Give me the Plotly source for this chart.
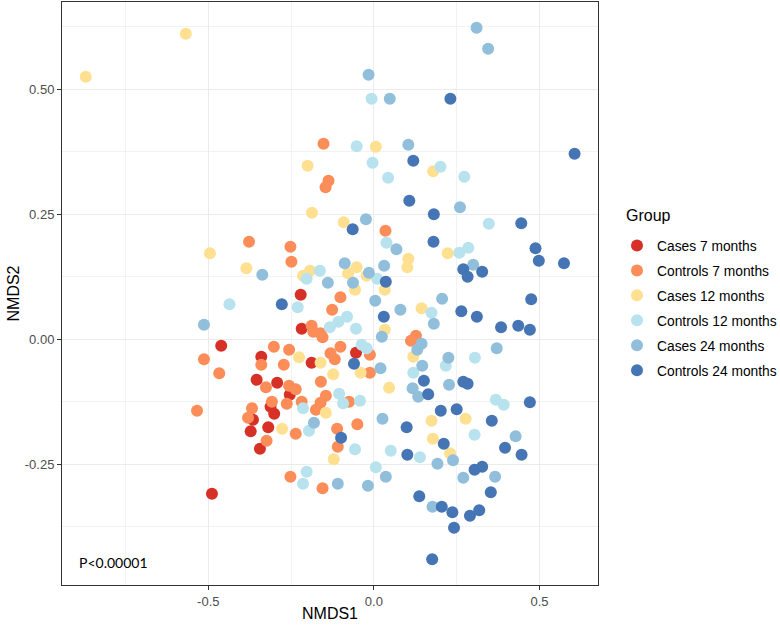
import plotly.graph_objects as go

groups = ["Cases 7 months", "Controls 7 months", "Cases 12 months",
          "Controls 12 months", "Cases 24 months", "Controls 24 months"]
colors = ["#D73027", "#FC8D59", "#FEE090", "#B7E2EE", "#91BFDB", "#4575B4"]

cases7_x = [-0.221, -0.218, -0.461, -0.340, -0.354, -0.292, -0.254, -0.312, -0.301, -0.365, -0.372, -0.319, -0.344, -0.489, -0.054, -0.188]
cases7_y = [0.089, 0.021, -0.013, -0.035, -0.081, -0.087, -0.111, -0.135, -0.149, -0.161, -0.184, -0.176, -0.219, -0.309, -0.027, -0.047]

controls7_x = [-0.152, -0.137, -0.146, -0.377, -0.252, -0.249, -0.513, -0.302, -0.256, -0.340, -0.272, -0.467, -0.326, -0.256, -0.236, -0.534, -0.368, -0.380, -0.308, -0.263, -0.218, -0.236, -0.324, -0.252, -0.145, -0.161, -0.175, -0.075, -0.111, -0.109, -0.050, -0.155, 0.035, -0.101, -0.126, -0.188, -0.183, -0.161, -0.155, 0.127, 0.112, -0.101, -0.131, -0.118, -0.012, -0.012, -0.160]
controls7_y = [0.391, 0.317, 0.304, 0.195, 0.185, 0.155, -0.040, -0.015, -0.021, -0.051, -0.051, -0.068, -0.096, -0.093, -0.100, -0.143, -0.138, -0.157, -0.125, -0.129, -0.125, -0.189, -0.203, -0.275, -0.113, -0.127, -0.141, -0.125, -0.179, -0.215, -0.170, -0.298, 0.217, 0.084, 0.059, 0.027, 0.015, 0.012, 0.004, 0.007, -0.003, -0.015, -0.028, -0.040, -0.031, -0.067, -0.085]

cases12_x = [-0.870, -0.568, -0.200, 0.006, 0.179, -0.187, -0.495, -0.385, -0.214, -0.226, -0.277, -0.145, -0.121, 0.174, 0.277, 0.178, 0.230, -0.091, 0.223, 0.104, 0.101, -0.052, -0.078, -0.022, 0.033, -0.057, -0.193, 0.144, 0.033, 0.119, 0.046, -0.040, -0.161, -0.123]
cases12_y = [0.525, 0.611, 0.347, 0.385, 0.336, 0.253, 0.172, 0.142, 0.127, -0.036, -0.179, -0.147, -0.240, -0.163, -0.159, -0.199, -0.228, 0.234, 0.172, 0.161, 0.144, 0.144, 0.132, 0.127, 0.099, 0.099, 0.137, 0.062, 0.019, -0.035, -0.097, -0.067, -0.047, -0.070]

controls12_x = [-0.007, -0.052, -0.004, 0.201, 0.043, 0.273, -0.203, -0.436, -0.230, -0.214, -0.196, -0.203, -0.214, -0.105, -0.093, -0.042, -0.057, 0.051, 0.006, 0.139, 0.304, 0.368, 0.392, 0.347, 0.038, 0.258, 0.285, 0.010, -0.163, 0.174, -0.081, -0.107, -0.133, -0.054, 0.119, 0.217, 0.305, -0.037, -0.022]
controls12_y = [0.481, 0.386, 0.353, 0.345, 0.323, 0.325, 0.121, 0.070, 0.064, -0.138, -0.183, -0.265, -0.289, -0.109, -0.128, -0.123, -0.220, -0.223, -0.256, -0.236, -0.191, -0.121, -0.131, 0.231, 0.193, 0.173, 0.183, 0.121, 0.137, 0.053, 0.045, 0.035, 0.024, 0.021, -0.067, -0.053, -0.037, -0.011, -0.018]

cases24_x = [0.310, 0.345, -0.016, 0.048, 0.104, 0.260, -0.337, -0.513, -0.181, -0.109, 0.026, 0.036, -0.018, 0.192, 0.239, 0.428, 0.270, 0.366, 0.177, 0.134, -0.024, 0.068, 0.300, -0.088, -0.015, 0.031, -0.063, -0.139, 0.004, 0.080, 0.206, 0.181, 0.024, 0.144, 0.131, 0.146, 0.225, 0.371, 0.227, 0.117, 0.020]
cases24_y = [0.623, 0.581, 0.529, 0.481, 0.389, 0.264, 0.129, 0.029, -0.167, -0.289, -0.159, -0.275, -0.293, -0.249, -0.242, -0.194, -0.277, -0.275, -0.335, -0.115, 0.240, 0.180, 0.149, 0.152, 0.133, 0.147, 0.113, 0.113, 0.077, 0.059, 0.081, 0.031, 0.005, -0.009, -0.021, -0.053, -0.037, -0.018, -0.091, -0.098, -0.058]

controls24_x = [0.231, 0.119, 0.107, -0.278, -0.099, 0.099, 0.101, 0.202, 0.250, 0.211, 0.356, 0.471, 0.396, 0.446, 0.304, 0.327, 0.353, 0.137, 0.205, 0.237, 0.290, 0.318, 0.242, 0.176, 0.164, -0.064, 0.181, 0.445, 0.180, 0.488, 0.498, 0.270, 0.283, 0.327, 0.036, 0.264, 0.311, 0.475, 0.030, 0.384, 0.436, 0.471, 0.151, 0.270, 0.283, -0.060, 0.606, 0.574]
controls24_y = [0.481, 0.357, 0.277, 0.070, -0.197, -0.176, -0.231, -0.143, -0.140, -0.209, -0.163, -0.126, -0.217, -0.231, -0.261, -0.255, -0.306, -0.314, -0.335, -0.346, -0.353, -0.342, -0.377, -0.440, -0.110, 0.220, 0.250, 0.232, 0.195, 0.182, 0.157, 0.140, 0.125, 0.135, 0.115, 0.056, 0.045, 0.080, 0.045, 0.024, 0.027, 0.019, -0.083, -0.085, -0.089, -0.049, 0.371, 0.152]

xs = [cases7_x, controls7_x, cases12_x, controls12_x, cases24_x, controls24_x]
ys = [cases7_y, controls7_y, cases12_y, controls12_y, cases24_y, controls24_y]

x_tickvals = [-0.5, 0.0, 0.5]
x_ticktext = ["-0.5", "0.0", "0.5"]
y_tickvals = [-0.25, 0.0, 0.25, 0.5]
y_ticktext = ["-0.25", "0.00", "0.25", "0.50"]

W, H = 780, 626
L, R, T, B = 62, 182, 2, 41


def px_to_paper(px_x, px_y):
    return (px_x - L) / (W - L - R), 1 - (px_y - T) / (H - T - B)


fig = go.Figure()
for name, col, x, y in zip(groups, colors, xs, ys):
    fig.add_trace(go.Scatter(x=x, y=y, mode="markers", name=name, legendgroup=name,
                             marker=dict(color=col, size=12, line=dict(width=0))))

axis_common = dict(showline=True, mirror=True, linecolor="#333333", linewidth=1,
                   gridcolor="#EBEBEB", gridwidth=1, zeroline=False, automargin=False,
                   ticks="outside", ticklen=4, tickcolor="#333333",
                   tickfont=dict(size=13, color="#4D4D4D"))

fig.update_xaxes(range=[-0.9417, 0.6767], tickvals=x_tickvals, ticktext=x_ticktext,
                 minor=dict(dtick=0.25, tick0=0, showgrid=True, gridcolor="#F2F2F2", gridwidth=0.8),
                 **axis_common)
fig.update_yaxes(range=[-0.4914, 0.6746], tickvals=y_tickvals, ticktext=y_ticktext,
                 minor=dict(dtick=0.125, tick0=0, showgrid=True, gridcolor="#F2F2F2", gridwidth=0.8),
                 **axis_common)

ax, ay = px_to_paper((L + W - R) / 2, 613)
fig.add_annotation(x=ax, y=ay, xref="paper", yref="paper", text="NMDS1", showarrow=False,
                   xanchor="center", yanchor="middle", font=dict(size=16, color="#000000"))
ax, ay = px_to_paper(13, (T + H - B) / 2)
fig.add_annotation(x=ax, y=ay, xref="paper", yref="paper", text="NMDS2", showarrow=False,
                   textangle=-90, xanchor="center", yanchor="middle",
                   font=dict(size=16, color="#000000"))
ax, ay = px_to_paper(624, 215)
fig.add_annotation(x=ax, y=ay, xref="paper", yref="paper", text="Group", showarrow=False,
                   xanchor="left", yanchor="middle", font=dict(size=16, color="#000000"))

fig.add_annotation(x=-0.897, y=-0.447, xref="x", yref="y", text="P<0.00001",
                   showarrow=False, xanchor="left", yanchor="middle",
                   font=dict(family="Lato", size=14, color="#000000"))

fig.update_layout(
    width=W, height=H,
    margin=dict(l=L, r=R, t=T, b=B),
    plot_bgcolor="white", paper_bgcolor="white",
    font=dict(family="Liberation Sans, Arial, sans-serif", color="#000000"),
    legend=dict(font=dict(size=13.8, color="#000000"),
                xref="container", yref="container", x=617 / W, y=1 - 230 / H,
                xanchor="left", yanchor="top", tracegroupgap=4,
                itemsizing="constant"),
    showlegend=True,
)

fig.write_html("out.html", config={"displayModeBar": False},
               post_script="document.body.style.margin='0px';document.body.style.padding='0px';")
